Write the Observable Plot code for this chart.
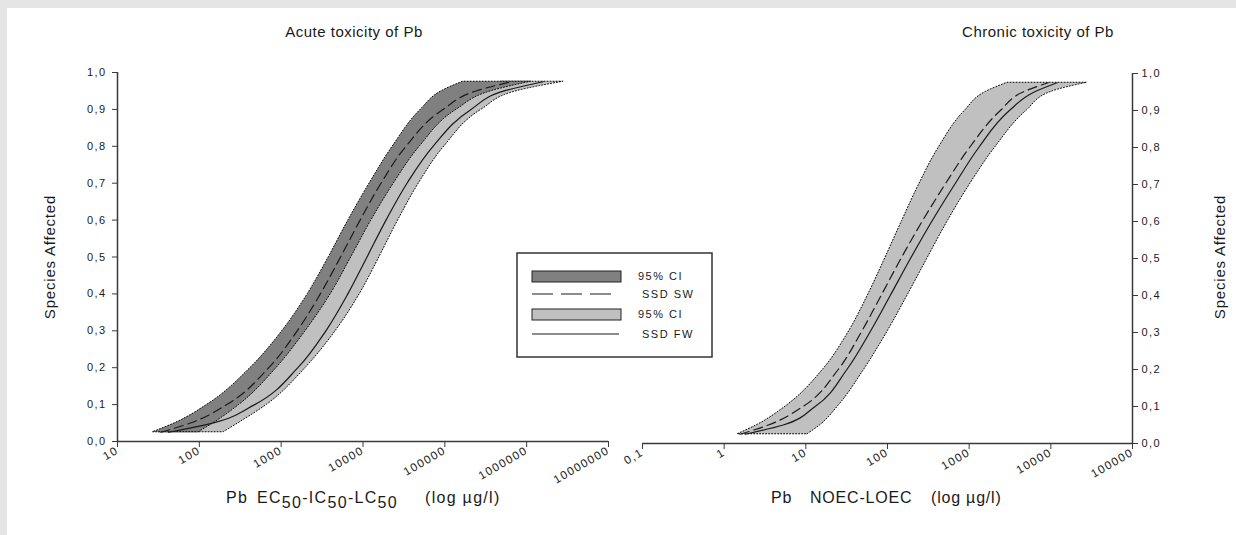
<!DOCTYPE html>
<html><head><meta charset="utf-8">
<script src="https://cdn.jsdelivr.net/npm/d3@7"></script>
<script src="https://cdn.jsdelivr.net/npm/@observablehq/plot@0.6"></script>
<style>
html,body{margin:0;padding:0;background:#e5e5e5;}
#frame{position:relative;width:1236px;height:535px;background:#e5e5e5;overflow:hidden;font-family:"Liberation Sans",Arial,sans-serif;}
#panel{position:absolute;left:7px;top:8px;right:0;bottom:0;background:#fff;}
#frame svg{position:absolute;top:0;}
</style></head>
<body><div id="frame"><div id="panel"></div></div>
<script>
// cumulative fraction of species affected
const pLevels = [0.025, 0.05, 0.1, 0.2, 0.3, 0.4, 0.5, 0.6, 0.7, 0.8, 0.9, 0.95, 0.975];
// Acute (µg/l)
const acuteSwLow    = [27, 51, 126, 425, 1040, 2120, 3830, 6660, 12100, 23200, 51200, 92500, 167000];
const acuteSwMedian = [34, 78, 216, 705, 1570, 3010, 5320, 9220, 16600, 33500, 95100, 241000, 646000];
const acuteSwHigh   = [98, 150, 311, 883, 2000, 4050, 7210, 12700, 23900, 49700, 141000, 378000, 1130000];
const acuteFwLow    = [32, 68, 193, 595, 1390, 2730, 4790, 8410, 14800, 29100, 78000, 198000, 488000];
const acuteFwMedian = [42, 146, 475, 1600, 3520, 6530, 11200, 19100, 34500, 71800, 209000, 531000, 1590000];
const acuteFwHigh   = [198, 303, 674, 2000, 4660, 9160, 15900, 27000, 48300, 98900, 284000, 776000, 2800000];
// Chronic (µg/l)
const chronicFwLow    = [1.46, 2.54, 5.66, 16.3, 33.2, 57.5, 93.5, 150, 244, 425, 893, 1590, 2950];
const chronicFwHigh   = [10.5, 15.1, 24.7, 51.9, 98.6, 176, 308, 544, 1020, 2080, 5080, 10000, 27700];
const chronicSwMedian = [1.58, 3.48, 9.25, 24.9, 47.4, 83.5, 146, 265, 505, 1010, 2410, 4560, 9270];
const chronicFwMedian = [1.82, 5.29, 13.0, 31.8, 60.6, 108, 191, 348, 663, 1310, 3110, 6270, 11900];
// ticks
const yTicks = [0, 0.1, 0.2, 0.3, 0.4, 0.5, 0.6, 0.7, 0.8, 0.9, 1.0];
const acuteXTicks = [10, 100, 1000, 10000, 100000, 1000000, 10000000];
const chronicXTicks = [0.1, 1, 10, 100, 1000, 10000, 100000];
const titles = ["Acute toxicity of Pb", "Chronic toxicity of Pb"];
const yLabel = "Species Affected";
const legendLabels = ["95% CI", "SSD SW", "95% CI", "SSD FW"];

const acuteSw = pLevels.map((p, i) => ({p, lo: acuteSwLow[i], med: acuteSwMedian[i], hi: acuteSwHigh[i]}));
const acuteFw = pLevels.map((p, i) => ({p, lo: acuteFwLow[i], med: acuteFwMedian[i], hi: acuteFwHigh[i]}));
const chronicFw = pLevels.map((p, i) => ({p, lo: chronicFwLow[i], hi: chronicFwHigh[i], med: chronicFwMedian[i]}));
const chronicSw = pLevels.map((p, i) => ({p, med: chronicSwMedian[i]}));

const DARK = "#808080", LIGHT = "#c0c0c0", INK = "#1a1a1a", AX = "#3a3a3a";
const yFmt = d => d.toFixed(1).replace(".", ",");
const xFmt = d => String(d).replace(".", ",");
const font = "'Liberation Sans', Arial, sans-serif";
const band = (data, fill) => Plot.areaX(data, {y: "p", x1: "lo", x2: "hi", fill, stroke: "#000", strokeWidth: 1, strokeDasharray: "1,2", curve: "monotone-y"});
const dashed = data => Plot.lineX(data, {x: "med", y: "p", stroke: INK, strokeWidth: 1.2, strokeDasharray: "9,5", curve: "monotone-y"});
const solid = data => Plot.lineX(data, {x: "med", y: "p", stroke: INK, strokeWidth: 1.2, curve: "monotone-y"});

const left = Plot.plot({
  width: 625, height: 535,
  marginLeft: 117, marginRight: 17, marginTop: 72, marginBottom: 94,
  style: {background: "transparent", fontFamily: font, color: INK, letterSpacing: "1.4px", overflow: "visible"},
  x: {type: "log", domain: [10, 1e7]},
  y: {domain: [0, 1]},
  marks: [
    band(acuteFw, LIGHT),
    band(acuteSw, DARK),
    dashed(acuteSw),
    solid(acuteFw),
    Plot.ruleX([10], {y1: 0, y2: 1, stroke: AX, strokeWidth: 1.5}),
    Plot.ruleY([0], {x1: 10, x2: 1e7, stroke: AX, strokeWidth: 1.5}),
    Plot.axisY({ticks: yTicks, tickFormat: yFmt, tickSize: 5, tickPadding: 6, fontSize: 11, label: null, anchor: "left", stroke: AX}),
    Plot.axisX({ticks: acuteXTicks, tickFormat: xFmt, tickSize: 6, tickPadding: 2, tickRotate: -30, fontSize: 11.5, label: null, stroke: AX})
  ]
});
left.style.left = "0px";

const right = Plot.plot({
  width: 616, height: 535,
  marginLeft: 22, marginRight: 104, marginTop: 73, marginBottom: 92,
  style: {background: "transparent", fontFamily: font, color: INK, letterSpacing: "1.4px", overflow: "visible"},
  x: {type: "log", domain: [0.1, 1e5]},
  y: {domain: [0, 1]},
  marks: [
    band(chronicFw, LIGHT),
    dashed(chronicSw),
    solid(chronicFw),
    Plot.ruleX([1e5], {y1: 0, y2: 1, stroke: AX, strokeWidth: 1.5}),
    Plot.ruleY([0], {x1: 0.1, x2: 1e5, stroke: AX, strokeWidth: 1.5}),
    Plot.axisY({ticks: yTicks, tickFormat: yFmt, tickSize: 5, tickPadding: 4, fontSize: 11, label: null, anchor: "right", stroke: AX}),
    Plot.axisX({ticks: chronicXTicks, tickFormat: xFmt, tickSize: 6, tickPadding: 2, tickRotate: -30, fontSize: 11.5, label: null, stroke: AX})
  ]
});
right.style.left = "620px";

const frame = document.getElementById("frame");
frame.appendChild(left);
frame.appendChild(right);

// overlay: titles, axis titles, legend
const ov = d3.create("svg").attr("width", 1236).attr("height", 535)
  .style("left", "0px").style("font-family", font).attr("fill", INK);

ov.append("text").attr("x", 354).attr("y", 37).attr("text-anchor", "middle")
  .attr("font-size", 15).attr("letter-spacing", 0.5).text(titles[0]);
ov.append("text").attr("x", 1038).attr("y", 37).attr("text-anchor", "middle")
  .attr("font-size", 15).attr("letter-spacing", 0.5).text(titles[1]);

[49, 1219].forEach(x => {
  ov.append("text").attr("transform", `translate(${x},257) rotate(-90)`)
    .attr("text-anchor", "middle").attr("dominant-baseline", "central")
    .attr("font-size", 15).attr("letter-spacing", 0.8).text(yLabel);
});

function xTitle(parts, ls) {
  const t = ov.append("text").attr("font-size", 16).attr("letter-spacing", ls);
  parts.forEach(p => {
    const s = t.append("tspan").attr("y", p.sub ? 508 : 503).text(p.t);
    if (p.x != null) s.attr("x", p.x);
  });
}
xTitle([{x: 226, t: "Pb"}, {x: 257, t: "EC"}, {t: "50", sub: true}, {t: "-IC"}, {t: "50", sub: true},
        {t: "-LC"}, {t: "50", sub: true}, {x: 425, t: "(log µg/l)"}], 1.3);
xTitle([{x: 771, t: "Pb"}, {x: 810, t: "NOEC-LOEC"}, {x: 931, t: "(log µg/l)"}], 0.8);

// legend
const lg = ov.append("g");
lg.append("rect").attr("x", 517).attr("y", 253).attr("width", 195).attr("height", 104)
  .attr("fill", "#fff").attr("stroke", "#333").attr("stroke-width", 1.5);
lg.append("rect").attr("x", 532).attr("y", 271).attr("width", 89).attr("height", 11)
  .attr("fill", DARK).attr("stroke", "#222").attr("stroke-width", 1);
lg.append("line").attr("x1", 532).attr("x2", 614).attr("y1", 294).attr("y2", 294)
  .attr("stroke", INK).attr("stroke-width", 1.2).attr("stroke-dasharray", "21,8");
lg.append("rect").attr("x", 532).attr("y", 309).attr("width", 89).attr("height", 11)
  .attr("fill", LIGHT).attr("stroke", "#222").attr("stroke-width", 1);
lg.append("line").attr("x1", 532).attr("x2", 619).attr("y1", 334).attr("y2", 334)
  .attr("stroke", INK).attr("stroke-width", 1.2);
[[638, 280], [642, 298], [638, 318], [642, 338]].forEach(([x, y], i) => {
  lg.append("text").attr("x", x).attr("y", y).attr("font-size", 11)
    .attr("letter-spacing", 1.5).text(legendLabels[i]);
});

frame.appendChild(ov.node());
</script>
</body></html>
